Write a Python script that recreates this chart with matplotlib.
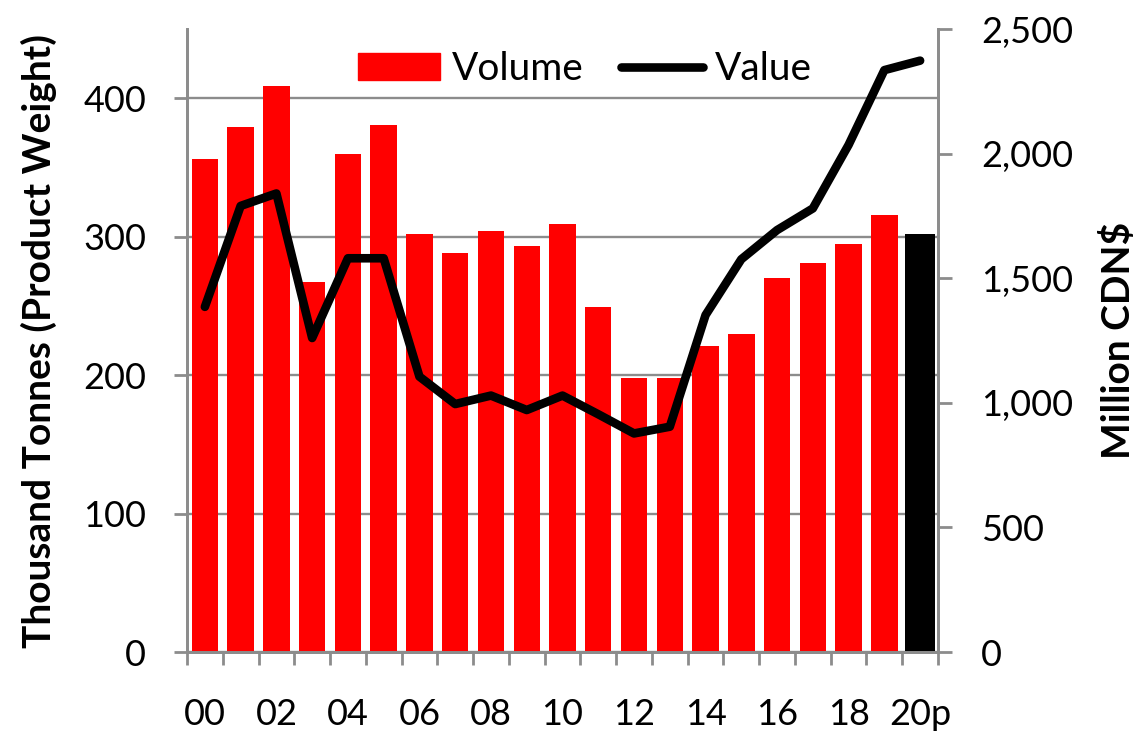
import numpy as np
import matplotlib.pyplot as plt
from matplotlib.patches import Patch
from matplotlib.lines import Line2D
from matplotlib.ticker import FuncFormatter

plt.rcParams['font.family'] = ['Lato', 'DejaVu Sans']

# datos
anios = ['00', '01', '02', '03', '04', '05', '06', '07', '08', '09', '10',
         '11', '12', '13', '14', '15', '16', '17', '18', '19', '20p']
volumen = [356, 379, 409, 267, 360, 381, 302, 288, 304, 293, 309,
           249, 198, 198, 221, 230, 270, 281, 295, 316, 302]
valor = [1385, 1790, 1840, 1260, 1580, 1580, 1105, 995, 1029, 971, 1029,
         954, 877, 904, 1352, 1576, 1693, 1780, 2035, 2335, 2373]
etiquetas_x = ['00', '02', '04', '06', '08', '10', '12', '14', '16', '18', '20p']

gris = '#8c8c8c'
x = np.arange(len(anios))

fig = plt.figure(figsize=(11.4, 7.31), dpi=100)
ax = fig.add_axes([187 / 1140, 1 - 652 / 731, (938 - 187) / 1140, (652 - 29) / 731])
ax2 = ax.twinx()

# barras: la ultima (estimada) en negro
colores = ['#ff0000'] * (len(anios) - 1) + ['#000000']
anchos = [0.74] * (len(anios) - 1) + [0.83]
ax.bar(x, volumen, width=anchos, color=colores, zorder=2)

ax2.plot(x, valor, color='black', lw=6.2, solid_capstyle='round', solid_joinstyle='round', zorder=3)

ax.set_xlim(-0.5, len(anios) - 0.5)
ax.set_ylim(0, 450)
ax2.set_ylim(0, 2500)

ax.set_yticks([0, 100, 200, 300, 400])
ax2.set_yticks([0, 500, 1000, 1500, 2000, 2500])
ax2.yaxis.set_major_formatter(FuncFormatter(lambda v, p: f'{v:,.0f}'))

ax.yaxis.grid(True, color=gris, lw=1.7, zorder=0)
ax.set_axisbelow(True)

# ticks del eje x: marcas en los limites de categoria, etiquetas cada 2
ax.set_xticks(x[::2])
ax.set_xticklabels(etiquetas_x)
ax.set_xticks(np.arange(-0.5, len(anios)), minor=True)
ax.tick_params(axis='x', which='major', length=0, pad=33, labelsize=26)
ax.tick_params(axis='x', which='minor', length=9, width=2, color=gris, direction='out')
ax.tick_params(axis='y', length=9.5, width=2, color=gris, pad=20, labelsize=26)
ax2.tick_params(axis='y', length=10, width=2, color=gris, pad=21, labelsize=26)

for a in (ax, ax2):
    a.spines['top'].set_visible(False)
    for s in ('left', 'right', 'bottom'):
        a.spines[s].set_color(gris)
        a.spines[s].set_linewidth(2)

ax.set_ylabel('Thousand Tonnes (Product Weight)', fontsize=28, fontweight='bold', labelpad=19)
ax2.set_ylabel('Million CDN$', fontsize=28, fontweight='bold', labelpad=19)

handles = [Patch(color='#ff0000'),
           Line2D([0], [0], color='black', lw=6.2, solid_capstyle='round')]
fig.legend(handles, ['Volume', 'Value'], loc='center', bbox_to_anchor=(585 / 1140, 1 - 69 / 731),
           ncol=2, frameon=False, fontsize=28, handlelength=2.1, handleheight=0.67,
           handletextpad=0.31, columnspacing=0.98, borderpad=0)

plt.savefig('out.png', dpi=100)
